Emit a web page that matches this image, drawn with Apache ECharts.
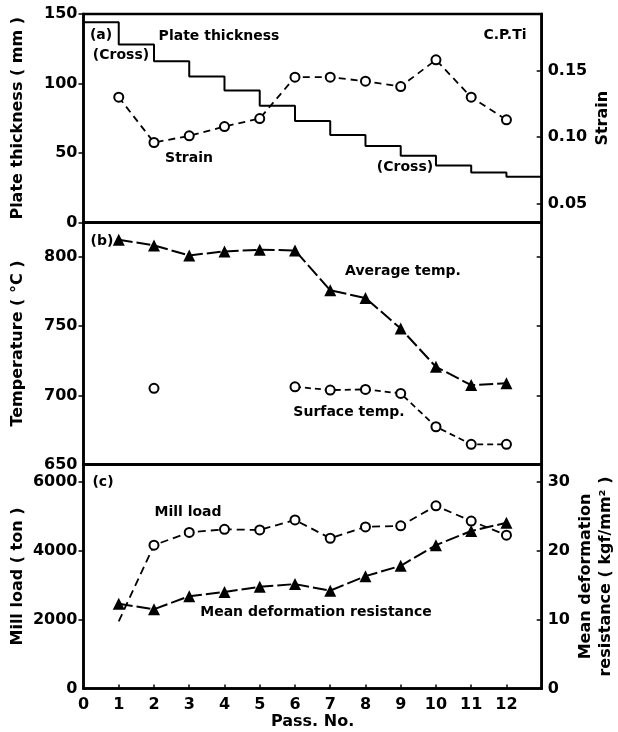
<!DOCTYPE html>
<html>
<head>
<meta charset="utf-8">
<script src="https://cdn.jsdelivr.net/npm/echarts@6/dist/echarts.min.js"></script>
<style>
html,body{margin:0;padding:0;background:#fff;}
#chart{width:618px;height:732px;}
</style>
</head>
<body>
<div id="chart"></div>
<script>
// ---- data ----
const passNo = [1,2,3,4,5,6,7,8,9,10,11,12];
const xTickLabels = [0,1,2,3,4,5,6,7,8,9,10,11,12];
// plate thickness (mm) before pass 1, then after each pass 1..12
const plateThickness = [144,128,116,105,95,84,73,63,55,48,41,36,33];
const strain = [0.130,0.096,0.101,0.108,0.114,0.145,0.145,0.142,0.138,0.158,0.130,0.113];
const averageTemp = [812.6,808.4,801.2,804.1,805.3,804.8,776.0,770.4,748.3,720.6,707.4,708.7];
const surfaceTemp = [null,705.1,null,null,null,706.2,703.8,704.3,701.4,677.3,664.6,664.6];
const millLoad = [1950,4160,4530,4620,4600,4890,4360,4690,4720,5300,4860,4450];
const meanDeformRes = [12.3,11.5,13.4,14.0,14.75,15.15,14.2,16.3,17.8,20.8,22.85,24.05];
const thicknessTicks = [0,50,100,150];
const strainTicks = [0.05,0.10,0.15];
const tempTicks = [650,700,750,800];
const loadTicks = [0,2000,4000,6000];
const resistTicks = [0,10,20,30];

// ---- style ----
const FONT = 'DejaVu Sans';
const BLK = '#000';
const L = 83.5, R = 76.3;
const lblStyle = {color: BLK, fontFamily: FONT, fontSize: 16, fontWeight: 'bold'};
const nameStyle = {color: BLK, fontFamily: FONT, fontSize: 16, fontWeight: 'bold'};

function xAx(gridIndex, showLabels){
  return {
    type: 'value', gridIndex, min: 0, max: 13, interval: 1,
    axisLine: {show: true, lineStyle: {color: BLK, width: 2.5}},
    axisTick: showLabels ? {show: true, inside: true, length: 4, lineStyle:{color:BLK,width:1.5}, customValues: passNo} : {show:false},
    axisLabel: showLabels ? Object.assign({show: true, margin: 8, customValues: xTickLabels, formatter: v=>String(v)}, lblStyle) : {show:false},
    splitLine: {show: false},
    name: showLabels ? 'Pass. No.' : '',
    nameLocation: 'middle', nameGap: 25, nameMoveOverlap: false, nameTextStyle: nameStyle
  };
}
function yAx(gridIndex, pos, min, max, ticks, opts){
  opts = opts || {};
  const right = pos === 'right';
  return {
    type: 'value', gridIndex, position: pos, min, max,
    axisLine: {show: true, lineStyle: {color: BLK, width: 2.5}},
    axisTick: {show: true, inside: right, length: 5, lineStyle:{color:BLK,width:1.5}, customValues: opts.tickValues || ticks},
    axisLabel: opts.noLabel ? {show:false} : Object.assign({show: true, margin: 6, customValues: ticks, formatter: opts.fmt || (v=>String(v))}, lblStyle),
    splitLine: {show: false},
    name: opts.name || '', nameLocation: 'middle', nameRotate: 90, nameGap: opts.nameGap || 60,
    nameMoveOverlap: false,
    nameTextStyle: Object.assign({lineHeight: 20}, nameStyle)
  };
}

const stepData = plateThickness.map((v,i)=>[i,v]).concat([[13, plateThickness[plateThickness.length-1]]]);
const circle = {symbol:'circle', symbolSize: 9, itemStyle:{color:'#fff', borderColor:BLK, borderWidth:2}};
const tri = {symbol:'triangle', symbolSize: 12, itemStyle:{color:BLK, borderColor:BLK, borderWidth:0}};

function txt(text, x, y, align){
  return {type:'text', x, y, style:{text, fill:BLK, font:'bold 14px "DejaVu Sans"', textAlign: align||'center', textVerticalAlign:'middle'}};
}
const gridBase = {left: L, right: R, show: true, borderColor: BLK, borderWidth: 2.5, backgroundColor:'transparent', containLabel:false, outerBoundsMode:'none'};

const option = {
  animation: false,
  backgroundColor: '#fff',
  grid: [
    Object.assign({top: 14, height: 208.5}, gridBase),
    Object.assign({top: 222.5, height: 242}, gridBase),
    Object.assign({top: 464.5, height: 224}, gridBase)
  ],
  xAxis: [xAx(0,false), xAx(1,false), xAx(2,true)],
  yAxis: [
    yAx(0,'left',0,150,thicknessTicks,{name:'Plate thickness ( mm )', nameGap:56}),
    yAx(0,'right',0.036,0.1924,strainTicks,{name:'Strain', nameGap:51, fmt: v=>v.toFixed(2)}),
    yAx(1,'left',650,825,tempTicks,{name:'Temperature ( °C )', nameGap:56, tickValues:[700,750,800]}),
    yAx(1,'right',650,825,[700,750,800],{noLabel:true}),
    yAx(2,'left',0,6500,loadTicks,{name:'Mill load ( ton )', nameGap:56, tickValues:[2000,4000,6000]}),
    yAx(2,'right',0,32.5,resistTicks,{name:'Mean deformation\nresistance ( kgf/mm² )', nameGap:34, tickValues:[10,20,30]})
  ],
  series: [
    {type:'line', xAxisIndex:0, yAxisIndex:0, step:'end', data: stepData, showSymbol:false,
     lineStyle:{color:BLK, width:2}},
    Object.assign({type:'line', xAxisIndex:0, yAxisIndex:1, data: strain.map((v,i)=>[passNo[i],v]),
     lineStyle:{color:BLK, width:1.8, type:[7,5]}}, circle),
    Object.assign({type:'line', xAxisIndex:1, yAxisIndex:2, data: averageTemp.map((v,i)=>[passNo[i],v]),
     lineStyle:{color:BLK, width:2, type:[14,4]}}, tri),
    Object.assign({type:'line', xAxisIndex:1, yAxisIndex:2, data: surfaceTemp.map((v,i)=>[passNo[i],v]),
     connectNulls:false, showAllSymbol:true, lineStyle:{color:BLK, width:1.8, type:[6,4]}}, circle),
    Object.assign({type:'line', xAxisIndex:2, yAxisIndex:4,
     data: millLoad.map((v,i)=> i===0 ? {value:[passNo[i],v], symbol:'none'} : [passNo[i],v]),
     lineStyle:{color:BLK, width:1.8, type:[8,5]}}, circle),
    Object.assign({type:'line', xAxisIndex:2, yAxisIndex:5, data: meanDeformRes.map((v,i)=>[passNo[i],v]),
     lineStyle:{color:BLK, width:2, type:[14,4]}}, tri)
  ],
  graphic: [
    txt('(a)', 101, 35),
    txt('Plate thickness', 219, 36),
    txt('(Cross)', 121, 55),
    txt('C.P.Ti', 505, 35),
    txt('Strain', 189, 158),
    txt('(Cross)', 405, 167),
    txt('(b)', 102, 241),
    txt('Average temp.', 403, 271),
    txt('Surface temp.', 349, 412),
    txt('(c)', 103, 482),
    txt('Mill load', 188, 512),
    txt('Mean deformation resistance', 316, 612)
  ]
};
const chart = echarts.init(document.getElementById('chart'), null, {renderer:'canvas'});
chart.setOption(option);
</script>
</body>
</html>
